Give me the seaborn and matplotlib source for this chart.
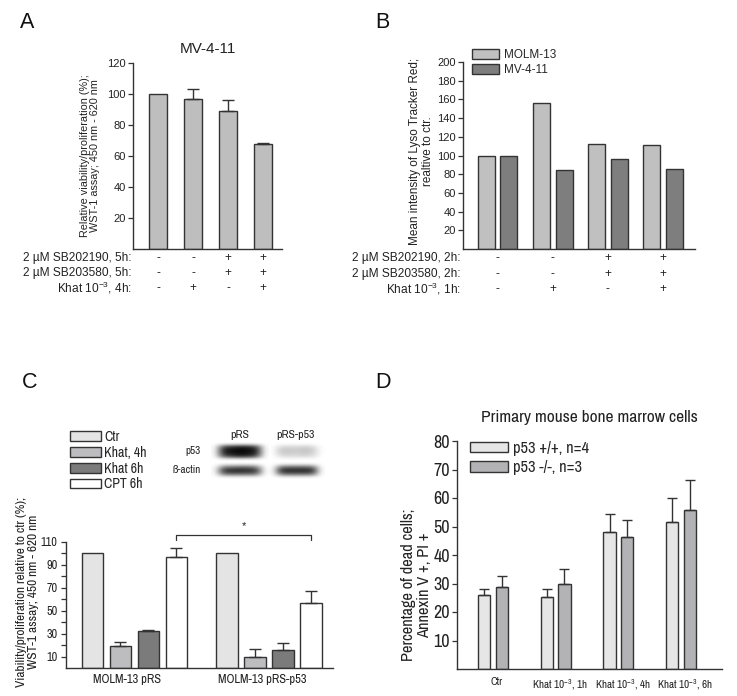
import numpy as np
import pandas as pd
import matplotlib
matplotlib.use("Agg")
import matplotlib.pyplot as plt
import matplotlib.transforms as mtransforms
import seaborn as sns
from matplotlib.patches import Patch

# figure size in pixels
W, H = 737, 696

# ---- Panel A: MV-4-11 viability ----
a_conditions = ["1", "2", "3", "4"]
a_values = [100, 96.5, 89, 67.5]
a_errors = [0, 7, 7.3, 1.2]
a_sb202190 = ["-", "-", "+", "+"]
a_sb203580 = ["-", "-", "+", "+"]
a_khat = ["-", "+", "-", "+"]

# ---- Panel B: Lyso Tracker Red ----
b_conditions = ["1", "2", "3", "4"]
b_molm13 = [100, 156, 112, 111]
b_mv411 = [100, 84, 96, 86]
b_sb202190 = ["-", "-", "+", "+"]
b_sb203580 = ["-", "-", "+", "+"]
b_khat = ["-", "+", "-", "+"]

# ---- Panel C: MOLM-13 pRS / pRS-p53 ----
c_groups = ["MOLM-13 pRS", "MOLM-13 pRS-p53"]
c_treatments = ["Ctr", "Khat, 4h", "Khat 6h", "CPT 6h"]
c_prs = [100, 19.5, 32, 97]
c_prs_err = [0, 3.5, 1.6, 8]
c_prs_p53 = [100, 10, 16, 56.5]
c_prs_p53_err = [0, 6.6, 6, 10.8]

# ---- Panel D: primary mouse bone marrow ----
d_conditions = ["Ctr", "Khat 10$^{-3}$, 1h", "Khat 10$^{-3}$, 4h", "Khat 10$^{-3}$, 6h"]
d_genotypes = ["p53 +/+, n=4", "p53 -/-, n=3"]
d_wt = [25.9, 25.1, 48.2, 51.5]
d_wt_err = [2.3, 2.8, 6.2, 8.5]
d_ko = [28.7, 29.8, 46.2, 55.8]
d_ko_err = [4.1, 5.2, 6.0, 10.5]

sns.set_style("white")
plt.rcParams["font.family"] = ["Liberation Sans", "DejaVu Sans"]
plt.rcParams["mathtext.default"] = "regular"
NARROW = ["Archivo Narrow", "Liberation Sans", "DejaVu Sans"]
EDGE = "#333333"
TXT = "#222222"

fig = plt.figure(figsize=(W / 100, H / 100), dpi=100)


def px_axes(x0, y0, x1, y1):
    return fig.add_axes([x0 / W, 1 - y1 / H, (x1 - x0) / W, (y1 - y0) / H])


def style_axes(ax, labelsize, family=None, pad=1.5):
    sns.despine(ax=ax)
    for s in ["left", "bottom"]:
        ax.spines[s].set_color(EDGE)
        ax.spines[s].set_linewidth(1.0)
    ax.tick_params(axis="y", direction="out", length=3.5, width=0.9,
                   color=EDGE, labelsize=labelsize, pad=pad, left=True,
                   labelcolor=TXT)
    ax.tick_params(axis="x", length=0, labelcolor=TXT)
    ax.set_xlabel("")
    ax.set_ylabel("")
    if family:
        for t in ax.get_yticklabels():
            t.set_family(family)


def add_errors(ax, values, errors, capsize=4):
    bars = sorted(ax.patches, key=lambda p: p.get_x())
    for p, v, e in zip(bars, values, errors):
        if e > 0:
            ax.errorbar(p.get_x() + p.get_width() / 2, v, yerr=[[0], [e]],
                        fmt="none", ecolor=EDGE, elinewidth=1.0,
                        capsize=capsize, capthick=1.0, zorder=1)


def sign_rows(ax, names, rows, ys, fontsize=8.6):
    tr = ax.get_xaxis_transform()
    for name, row, y in zip(names, rows, ys):
        ax.text(-0.01, y, name, transform=ax.transAxes, ha="right",
                va="center", fontsize=fontsize, color=TXT)
        for i, s in enumerate(row):
            ax.text(i, y, s, transform=tr, ha="center", va="center",
                    fontsize=fontsize, color=TXT)


def shift_xticklabels(ax, dx_px):
    off = mtransforms.ScaledTranslation(dx_px / 100, 0, fig.dpi_scale_trans)
    for t in ax.get_xticklabels():
        t.set_transform(t.get_transform() + off)


# ================= Panel A =================
axA = px_axes(133, 63, 282, 249)
dfA = pd.DataFrame({"cond": a_conditions, "value": a_values})
sns.barplot(data=dfA, x="cond", y="value", color="#BEBEBE", saturation=1,
            width=0.49, edgecolor=EDGE, linewidth=1.0, errorbar=None, ax=axA)
add_errors(axA, a_values, a_errors)
axA.set_ylim(0, 120)
axA.set_yticks(range(20, 121, 20))
axA.set_xlim(-0.714, 3.543)
axA.set_xticks([])
style_axes(axA, 8)
axA.set_title("MV-4-11", fontsize=11, pad=7, color=TXT)
sign_rows(axA, ["2 µM SB202190, 5h:", "2 µM SB203580, 5h:", "Khat 10$^{-3}$, 4h:"],
          [a_sb202190, a_sb203580, a_khat], [-0.048, -0.129, -0.21])
fig.text(90 / W, 1 - 156 / H,
         "Relative viability/proliferation (%);\nWST-1 assay; 450 nm - 620 nm",
         rotation=90, ha="center", va="center", fontsize=7.8, color=TXT,
         linespacing=1.1)

# ================= Panel B =================
axB = px_axes(463, 62, 695, 249)
dfB = pd.DataFrame({
    "cond": b_conditions * 2,
    "value": b_molm13 + b_mv411,
    "line": ["MOLM-13"] * 4 + ["MV-4-11"] * 4,
})
sns.barplot(data=dfB, x="cond", y="value", hue="line",
            palette=["#C0C0C0", "#7E7E7E"], saturation=1, width=0.82, gap=0.244,
            edgecolor=EDGE, linewidth=1.0, errorbar=None, legend=False, ax=axB)
axB.set_ylim(0, 200)
axB.set_yticks(range(20, 201, 20))
axB.set_xlim(-0.628, 3.58)
axB.set_xticks([])
style_axes(axB, 8)
sign_rows(axB, ["2 µM SB202190, 2h:", "2 µM SB203580, 2h:", "Khat 10$^{-3}$, 1h:"],
          [b_sb202190, b_sb203580, b_khat], [-0.048, -0.134, -0.214])
fig.text(421.5 / W, 1 - 151 / H,
         "Mean intensity of Lyso Tracker Red;\nrealtive to ctr.",
         rotation=90, ha="center", va="center", fontsize=8.5, color=TXT,
         linespacing=1.1)
fig.legend(handles=[Patch(facecolor="#C0C0C0", edgecolor=EDGE, lw=1.0),
                    Patch(facecolor="#7E7E7E", edgecolor=EDGE, lw=1.0)],
           labels=["MOLM-13", "MV-4-11"], loc="upper left",
           bbox_to_anchor=(472 / W, 1 - 49 / H), frameon=False, fontsize=8.5,
           handlelength=2.3, handleheight=0.85, handletextpad=0.4,
           labelspacing=0.25, borderpad=0, borderaxespad=0)

# ================= Panel C =================
axC = px_axes(66, 542, 333, 668)
dfC = pd.DataFrame({
    "group": [c_groups[0]] * 4 + [c_groups[1]] * 4,
    "treat": c_treatments * 2,
    "value": c_prs + c_prs_p53,
})
c_colors = ["#E4E4E4", "#BDBDBF", "#7B7B7B", "#FFFFFF"]
sns.barplot(data=dfC, x="group", y="value", hue="treat", hue_order=c_treatments,
            palette=c_colors, saturation=1, width=0.833, gap=0.226,
            edgecolor=EDGE, linewidth=1.0, errorbar=None, legend=False, ax=axC)
add_errors(axC, c_prs + c_prs_p53, c_prs_err + c_prs_p53_err)
axC.set_ylim(0, 110)
axC.set_yticks(range(10, 111, 20))
axC.set_yticks(range(20, 101, 20), minor=True)
axC.set_xlim(-0.509, 1.476)
style_axes(axC, 8.8, NARROW, pad=2.5)
axC.tick_params(axis="y", which="minor", direction="out", length=3.5,
                width=0.9, color=EDGE, left=True)
axC.tick_params(axis="x", labelsize=9, pad=4)
for t in axC.get_xticklabels():
    t.set_family(NARROW)
shift_xticklabels(axC, -7)
# significance bracket between the two CPT bars
cpt = sorted(axC.patches, key=lambda p: p.get_x())
x1 = cpt[3].get_x() + cpt[3].get_width() / 2
x2 = cpt[7].get_x() + cpt[7].get_width() / 2
axC.plot([x1, x1, x2, x2], [111.5, 116.4, 116.4, 111.5], color=EDGE, lw=0.9,
         clip_on=False)
axC.text((x1 + x2) / 2, 123.5, "*", ha="center", va="center", fontsize=8,
         color=TXT)
fig.text(27.5 / W, 1 - 592 / H,
         "Viability/proliferation relative to ctr (%);\nWST-1 assay; 450 nm - 620 nm",
         rotation=90, ha="center", va="center", fontsize=9.6, color=TXT,
         family=NARROW, linespacing=1.05)
fig.legend(handles=[Patch(facecolor=c, edgecolor=EDGE, lw=1.0) for c in c_colors],
           labels=c_treatments, loc="upper left",
           bbox_to_anchor=(70 / W, 1 - 430 / H), frameon=False,
           prop={"family": NARROW, "size": 10},
           handlelength=2.2, handleheight=0.7, handletextpad=0.25,
           labelspacing=0.13, borderpad=0, borderaxespad=0)

# western blot inset (p53 / ß-actin)
axW = px_axes(205, 440, 330, 482)
axW.set_xlim(205, 330)
axW.set_ylim(482, 440)
axW.axis("off")
blot_p53_prs = np.array([[1, 1, 1, 1, 1, 1, 1],
                         [1, .3, .2, .12, .15, .3, 1],
                         [1, .12, .06, .02, .05, .12, 1],
                         [1, .15, .08, .04, .06, .15, 1],
                         [1, .35, .25, .15, .2, .35, 1],
                         [1, 1, 1, 1, 1, 1, 1]])
blot_p53_p53 = np.array([[1, 1, 1, 1, 1, 1, 1],
                         [1, .86, .84, .86, .82, .86, 1],
                         [1, .78, .78, .8, .76, .8, 1],
                         [1, .8, .8, .82, .78, .82, 1],
                         [1, .88, .86, .87, .85, .88, 1],
                         [1, 1, 1, 1, 1, 1, 1]])
blot_actin_prs = np.array([[1, 1, 1, 1, 1, 1, 1],
                           [1, .5, .45, .4, .4, .5, 1],
                           [1, .2, .12, .12, .15, .2, 1],
                           [1, .45, .4, .4, .4, .45, 1],
                           [1, 1, 1, 1, 1, 1, 1]])
blot_actin_p53 = np.array([[1, 1, 1, 1, 1, 1, 1],
                           [1, .45, .4, .4, .4, .45, 1],
                           [1, .15, .12, .12, .12, .15, 1],
                           [1, .45, .4, .4, .4, .45, 1],
                           [1, 1, 1, 1, 1, 1, 1]])
for img, ext in [(blot_p53_prs, (211, 268, 461, 442)),
                 (blot_p53_p53, (269, 325, 461, 442)),
                 (blot_actin_prs, (211, 268, 479, 463)),
                 (blot_actin_p53, (269, 325, 479, 463))]:
    axW.imshow(img, cmap="gray", vmin=0, vmax=1, extent=ext,
               interpolation="bicubic", aspect="auto")
fig.text(240 / W, 1 - 435 / H, "pRS", ha="center", va="center", fontsize=8.5,
         family=NARROW, color=TXT)
fig.text(295 / W, 1 - 435 / H, "pRS-p53", ha="center", va="center", fontsize=8.5,
         family=NARROW, color=TXT)
fig.text(201 / W, 1 - 451 / H, "p53", ha="right", va="center", fontsize=8,
         family=NARROW, color=TXT)
fig.text(201 / W, 1 - 470 / H, "ß-actin", ha="right", va="center", fontsize=8,
         family=NARROW, color=TXT)

# ================= Panel D =================
axD = px_axes(457, 441, 722, 669)
dfD = pd.DataFrame({
    "cond": d_conditions * 2,
    "value": d_wt + d_ko,
    "geno": [d_genotypes[0]] * 4 + [d_genotypes[1]] * 4,
})
d_colors = ["#E6E6E6", "#B3B3B6"]
sns.barplot(data=dfD, x="cond", y="value", hue="geno", hue_order=d_genotypes,
            palette=d_colors, saturation=1, width=0.556, gap=0.295,
            edgecolor=EDGE, linewidth=1.0, errorbar=None, legend=False, ax=axD)
d_vals_sorted = [v for pair in zip(d_wt, d_ko) for v in pair]
d_err_sorted = [e for pair in zip(d_wt_err, d_ko_err) for e in pair]
add_errors(axD, d_vals_sorted, d_err_sorted, capsize=3.5)
axD.set_ylim(0, 80)
axD.set_yticks(range(10, 81, 10))
axD.set_xlim(-0.574, 3.654)
style_axes(axD, 13, NARROW)
axD.tick_params(axis="x", labelsize=8, pad=6)
for t in axD.get_xticklabels():
    t.set_family(NARROW)
shift_xticklabels(axD, 4)
axD.set_title("Primary mouse bone marrow cells", fontsize=12.5, family=NARROW,
              pad=14, color=TXT)
fig.text(416.5 / W, 1 - 585 / H, "Percentage of dead cells;\nAnnexin V +, PI +",
         rotation=90, ha="center", va="center", fontsize=11.8, family=NARROW,
         color=TXT, linespacing=1.05)
fig.legend(handles=[Patch(facecolor=c, edgecolor=EDGE, lw=1.0) for c in d_colors],
           labels=d_genotypes, loc="upper left",
           bbox_to_anchor=(470 / W, 1 - 441 / H), frameon=False,
           prop={"family": NARROW, "size": 11.8},
           handlelength=2.3, handleheight=0.6, handletextpad=0.3,
           labelspacing=0.25, borderpad=0, borderaxespad=0)

# panel letters
for letter, x, y in [("A", 20, 22), ("B", 375, 22), ("C", 22, 383), ("D", 375, 382)]:
    fig.text(x / W, 1 - y / H, letter, fontsize=15.5, ha="left", va="center",
             color="#111111")

fig.savefig("out.png", dpi=100)
